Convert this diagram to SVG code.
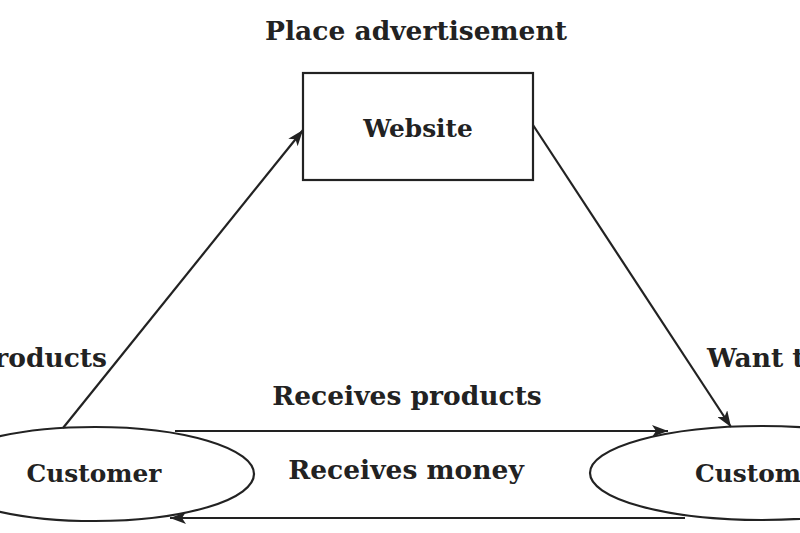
<svg xmlns="http://www.w3.org/2000/svg" width="800" height="533" viewBox="0 0 800 533">
<style>
text{font-family:"DejaVu Serif","Liberation Serif",serif;font-weight:bold;font-size:26.5px;fill:#222}
text.n{font-size:24.8px}
.s{fill:none;stroke:#222;stroke-width:2.2}
</style>
<defs>
<marker id="ah" viewBox="0 0 16 12" refX="16" refY="6" markerWidth="16" markerHeight="12" markerUnits="userSpaceOnUse" orient="auto">
<path d="M0,0 L16,6 L0,12 L4,6 Z" fill="#222"/>
</marker>
</defs>
<rect width="800" height="533" fill="#fff"/>
<text x="416" y="40" text-anchor="middle">Place advertisement</text>
<text x="107" y="367" text-anchor="end">Products</text>
<text x="707" y="367">Want to buy</text>
<text x="407" y="405" text-anchor="middle">Receives products</text>
<text x="406" y="479" text-anchor="middle">Receives money</text>
<g id="website">
<rect class="s" x="303" y="73" width="230" height="107"/>
<text class="n" x="418" y="137" text-anchor="middle">Website</text>
</g>
<g id="customer-left">
<ellipse class="s" cx="95" cy="474" rx="159" ry="47"/>
<text class="n" x="94" y="482" text-anchor="middle">Customer</text>
</g>
<g id="customer-right">
<ellipse class="s" cx="762" cy="473" rx="172" ry="47"/>
<text class="n" x="695" y="482">Customer</text>
</g>
<g id="connectors">
<line class="s" x1="63" y1="428" x2="303" y2="130" marker-end="url(#ah)"/>
<line class="s" x1="533" y1="125" x2="731" y2="427" marker-end="url(#ah)"/>
<line class="s" x1="175" y1="431" x2="668" y2="431" marker-end="url(#ah)"/>
<line class="s" x1="685" y1="518" x2="170" y2="518" marker-end="url(#ah)"/>
</g>
</svg>
